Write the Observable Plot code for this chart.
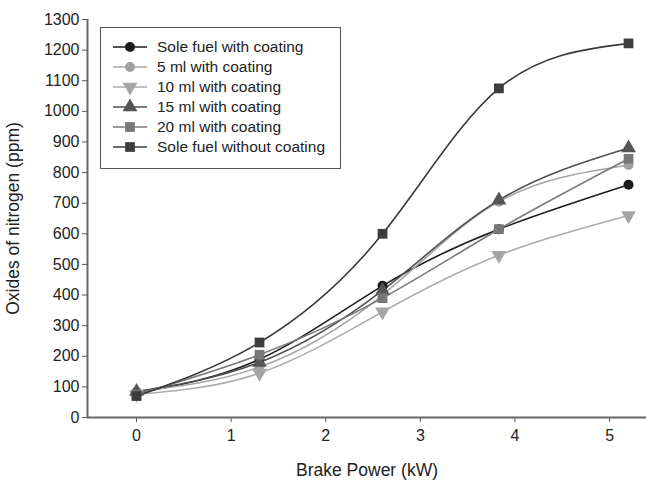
<!DOCTYPE html>
<html><head><meta charset="utf-8">
<script src="https://cdn.jsdelivr.net/npm/d3@7"></script>
<script src="https://cdn.jsdelivr.net/npm/@observablehq/plot@0.6"></script>
<style>
body{margin:0;background:#fff;}
#wrap{position:relative;width:646px;height:483px;}
#legend{position:absolute;left:100px;top:27px;width:241px;height:142px;border:1.5px solid #555;box-sizing:border-box;background:#fff;font:15.5px "Liberation Sans",Arial,sans-serif;color:#222;padding-top:9px;}
.row{display:flex;align-items:center;height:20px;}
.row svg{width:56px;height:20px;flex:none;}
</style>
</head><body>
<div id="wrap"><div id="legend"></div></div>
<script>
const power = [0, 1.3, 2.6, 3.83, 5.2];
const soleWith = [80, 190, 430, 615, 760];
const ml5 = [85, 165, 400, 705, 825];
const ml10 = [75, 145, 345, 530, 660];
const ml15 = [85, 180, 415, 710, 880];
const ml20 = [75, 205, 390, 615, 845];
const soleWithout = [70, 245, 600, 1075, 1222];
const seriesNames = ["Sole fuel with coating", "5 ml with coating", "10 ml with coating", "15 ml with coating", "20 ml with coating", "Sole fuel without coating"];
const xTicks = [0, 1, 2, 3, 4, 5];
const yTicks = [0,100,200,300,400,500,600,700,800,900,1000,1100,1200,1300];

const triangleDown = {draw(ctx, size) {
  const y = -Math.sqrt(size / (3 * Math.sqrt(3)));
  ctx.moveTo(0, -y * 2);
  ctx.lineTo(-Math.sqrt(3) * y, y);
  ctx.lineTo(Math.sqrt(3) * y, y);
  ctx.closePath();
}};

const styles = [
  {stroke: "#1c1c1c", fill: "#1c1c1c", symbol: "circle", r: 5},
  {stroke: "#a6a6a6", fill: "#a0a0a0", symbol: "circle", r: 5},
  {stroke: "#ababab", fill: "#a5a5a5", symbol: triangleDown, r: 5.5},
  {stroke: "#505050", fill: "#555555", symbol: "triangle", r: 5.5},
  {stroke: "#7a7a7a", fill: "#777777", symbol: "square", r: 5.5},
  {stroke: "#3a3a3a", fill: "#3d3d3d", symbol: "square", r: 5.5}
];
const values = [soleWith, ml5, ml10, ml15, ml20, soleWithout];
const data = values.map((vs, i) => power.map((p, j) => ({x: p, y: vs[j], s: seriesNames[i]})));

const xMin = -0.518, xMax = 5.39;
const font = "Liberation Sans, Arial, sans-serif";
const marks = [
  Plot.axisX({ticks: xTicks, tickFormat: d3.format("d"), tickSize: 5, tickPadding: 7, fontSize: 16, stroke: "#555", color: "#222", label: null}),
  Plot.axisX([], {label: "Brake Power (kW)", labelAnchor: "center", labelArrow: "none", labelOffset: 58, fontSize: 17.5, color: "#222"}),
  Plot.axisY({ticks: yTicks, tickFormat: d3.format("d"), tickSize: 5, tickPadding: 3, fontSize: 16, stroke: "#555", color: "#222", label: null}),
  Plot.axisY([], {label: "Oxides of nitrogen (ppm)", labelAnchor: "center", labelArrow: "none", labelOffset: 81, fontSize: 17.5, color: "#222"}),
  Plot.ruleY([0], {stroke: "#666", strokeWidth: 2}),
  Plot.ruleX([xMin], {stroke: "#666", strokeWidth: 2})
];
data.forEach((d, i) => {
  marks.push(Plot.line(d, {x: "x", y: "y", curve: "natural", stroke: styles[i].stroke, strokeWidth: 1.6}));
});
data.forEach((d, i) => {
  marks.push(Plot.dot(d, {x: "x", y: "y", symbol: styles[i].symbol, fill: styles[i].fill, stroke: "none", r: styles[i].r}));
});

const chart = Plot.plot({
  width: 646, height: 483,
  marginLeft: 87, marginRight: 0, marginTop: 19, marginBottom: 66,
  style: {fontFamily: font, background: "#fff", color: "#222"},
  x: {domain: [xMin, xMax]},
  y: {domain: [0, 1300]},
  marks
});
const wrap = document.getElementById("wrap");
wrap.insertBefore(chart, wrap.firstChild);

const legend = document.getElementById("legend");
styles.forEach((st, i) => {
  const row = document.createElement("div");
  row.className = "row";
  const svg = d3.create("svg").attr("width", 56).attr("height", 20);
  svg.append("line").attr("x1", 12).attr("x2", 46).attr("y1", 10).attr("y2", 10).attr("stroke", st.stroke).attr("stroke-width", 1.6);
  const sym = typeof st.symbol === "string" ? ({circle: d3.symbolCircle, triangle: d3.symbolTriangle, square: d3.symbolSquare})[st.symbol] : st.symbol;
  svg.append("path").attr("transform", "translate(29,10)").attr("d", d3.symbol(sym, Math.PI * st.r * st.r)()).attr("fill", st.fill);
  row.appendChild(svg.node());
  const t = document.createElement("span");
  t.textContent = seriesNames[i];
  row.appendChild(t);
  legend.appendChild(row);
});
</script>
</body></html>
